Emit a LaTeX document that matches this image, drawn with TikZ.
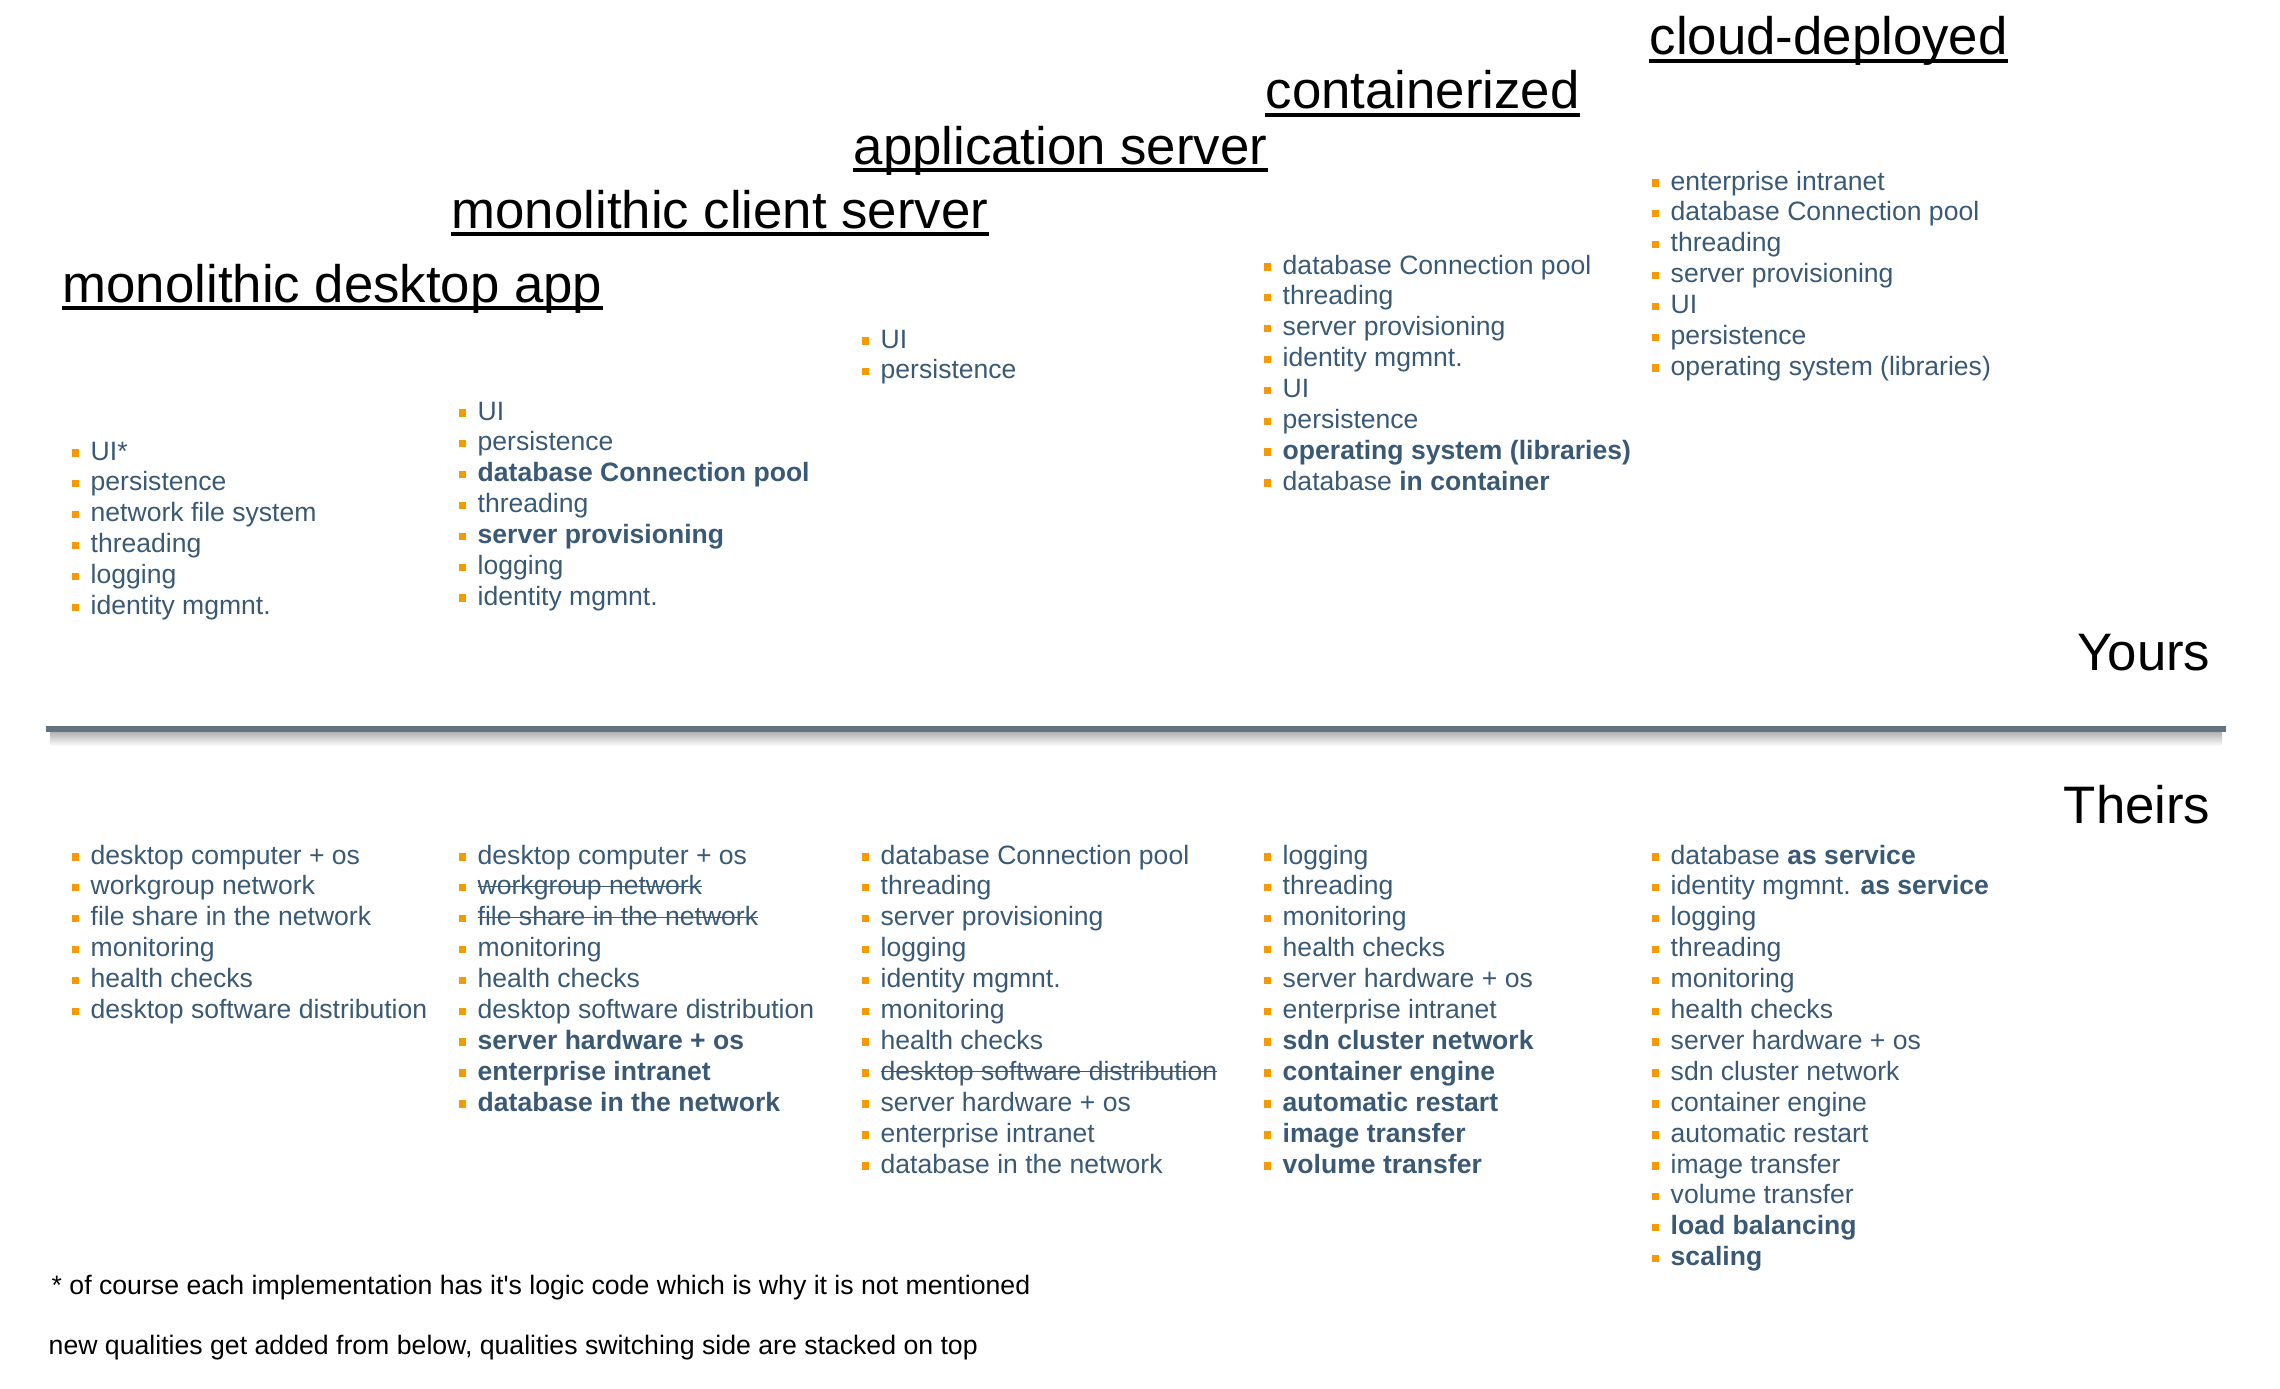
\documentclass[tikz,border=0pt]{standalone}
\usepackage{fontspec}
\setmainfont{Liberation Sans}
\usetikzlibrary{calc}

\definecolor{itemblue}{RGB}{58,89,116}
\definecolor{bulletorange}{RGB}{245,155,0}
\definecolor{barslate}{RGB}{100,115,128}

\tikzset{
    heading/.style={anchor=base west, inner sep=0pt, font=\fontsize{15}{18}\selectfont},
    uline/.style={line width=1pt},
    side/.style={anchor=base east, inner sep=0pt, font=\fontsize{15}{18}\selectfont},
    item/.style={anchor=base west, inner sep=0pt, text=itemblue, font=\fontsize{7.55}{9}\selectfont},
    bulletsq/.style={fill=bulletorange},
    note/.style={anchor=base west, inner sep=0pt, font=\fontsize{7.58}{9}\selectfont},
}

% struck-out text
\newsavebox{\strkbox}
\newcommand{\strk}[1]{\sbox{\strkbox}{#1}\rlap{\rule[0.3em]{\wd\strkbox}{0.35pt}}\usebox{\strkbox}}

% one column of bulleted qualities: name, x, first baseline, items
\newcommand{\qualcol}[4]{%
    \foreach \txt [count=\i] in {#4} {
        \node[item] (#1\i) at (#2, {#3+30.9*(\i-1)}) {\txt};
        \fill[bulletsq] ($(#1\i.base west)+(-18.5,-11)$) rectangle +(7.5,7.5);
    }
}

\begin{document}
\begin{tikzpicture}[x=0.01cm, y=-0.01cm]
                \useasboundingbox (0,0) rectangle (2280,1388);

                % headings
                \node[heading] (MDA) at (62,302) {monolithic desktop app};
                \node[heading] (MCS) at (451,228) {monolithic client server};
                \node[heading] (APS) at (853,164) {application server};
                \node[heading] (CTZ) at (1265,109) {containerized};
                \node[heading] (CLD) at (1649,55) {cloud-deployed};
                \foreach \h in {MDA,MCS,APS,CTZ,CLD}
                    \draw[uline] ($(\h.base west)+(0,6)$) -- ($(\h.base east)+(0,6)$);

                % yours
                \qualcol{MDAy}{90}{460}{UI*, persistence, network file system, threading, logging, identity mgmnt.}
                \qualcol{MCSy}{477}{420}{UI, persistence, \textbf{database Connection pool}, threading, \textbf{server provisioning}, logging, identity mgmnt.}
                \qualcol{APSy}{880}{348}{UI, persistence}
                \qualcol{CTZy}{1282}{274}{database Connection pool, threading, server provisioning, identity mgmnt., UI, persistence, \textbf{operating system (libraries)}, database \textbf{in container}}
                \qualcol{CLDy}{1670}{190}{enterprise intranet, database Connection pool, threading, server provisioning, UI, persistence, operating system (libraries)}

                % separator
                \coordinate (barL) at (46,729);
                \coordinate (barR) at (2226,729);
                \shade[top color=black!30, bottom color=white] ($(barL)+(4,3)$) rectangle ($(barR)+(-4,17)$);
                \draw[barslate, line width=0.06cm] (barL) -- (barR);
                \node[side] (Y) at (2211,670) {Yours};
                \node[side] (T) at (2211,823) {Theirs};

                % theirs
                \qualcol{MDAt}{90}{864}{desktop computer + os, workgroup network, file share in the network, monitoring, health checks, desktop software distribution}
                \qualcol{MCSt}{477}{864}{desktop computer + os, \strk{workgroup network}, \strk{file share in the network}, monitoring, health checks, desktop software distribution, \textbf{server hardware + os}, \textbf{enterprise intranet}, \textbf{database in the network}}
                \qualcol{APSt}{880}{864}{database Connection pool, threading, server provisioning, logging, identity mgmnt., monitoring, health checks, \strk{desktop software distribution}, server hardware + os, enterprise intranet, database in the network}
                \qualcol{CTZt}{1282}{864}{logging, threading, monitoring, health checks, server hardware + os, enterprise intranet, \textbf{sdn cluster network}, \textbf{container engine}, \textbf{automatic restart}, \textbf{image transfer}, \textbf{volume transfer}}
                \qualcol{CLDt}{1670}{864}{database \textbf{as service}, identity mgmnt. \textbf{as service}, logging, threading, monitoring, health checks, server hardware + os, sdn cluster network, container engine, automatic restart, image transfer, volume transfer, \textbf{load balancing}, \textbf{scaling}}

                % notes
                \node[note] (N1) at (51,1294) {* of course each implementation has it\textquotesingle s logic code which is why it is not mentioned};
                \node[note] (N2) at (48,1354) {new qualities get added from below, qualities switching side are stacked on top};
            \end{tikzpicture}
\end{document}
